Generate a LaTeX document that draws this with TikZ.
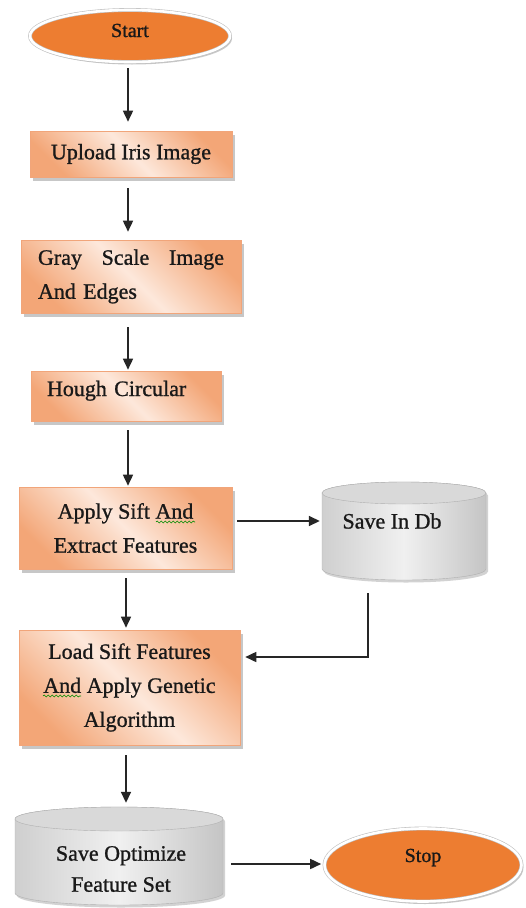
\documentclass[tikz,border=0pt]{standalone}
\usepackage{fontspec}
\setmainfont{Liberation Serif}[FakeBold=1.0]
\usetikzlibrary{arrows.meta,shapes.geometric,shadows,calc,decorations.pathmorphing}
\definecolor{ovalfill}{HTML}{ED7D31}
\definecolor{boxdark}{HTML}{F3A677}
\definecolor{boxlight}{HTML}{FDE8DB}
\definecolor{boxedge}{HTML}{F1A57A}
\definecolor{cylA}{HTML}{CFCFCF}
\definecolor{cylB}{HTML}{F0F0F0}
\definecolor{cylTop}{HTML}{D9D9D9}
\begin{document}
\begin{tikzpicture}[x=1pt,y=-1pt,
  txt/.style={font=\fontsize{22pt}{34pt}\selectfont, text=black!90, inner sep=0pt},
  procbox/.style={rectangle, draw=boxedge, line width=0.6pt, top color=boxdark, bottom color=boxdark, middle color=boxlight, shading angle=-45,
    drop shadow={shadow xshift=3pt,shadow yshift=-3.5pt,fill=black!40,opacity=0.55}, inner sep=0pt, txt},
  terminal/.style={ellipse, fill=ovalfill, draw=black!25, line width=0.6pt, double=white, double distance=2.6pt,
    inner sep=0pt, text=black!90, font=\fontsize{20pt}{24pt}\selectfont,
    drop shadow={shadow xshift=2pt,shadow yshift=-2.5pt,fill=black!35,opacity=0.6}},
  ghost/.style={rectangle, inner sep=0pt},
  cylbody/.style={left color=cylA, right color=cylA!95!black, middle color=cylB, draw=cylA!85!black, line width=0.4pt,
    drop shadow={shadow xshift=2pt,shadow yshift=-2.5pt,fill=black!35,opacity=0.5}},
  cyltop/.style={fill=cylTop, draw=cylA!85!black, line width=0.4pt},
  squig/.style={draw=green!55!black, line width=0.6pt, decorate, decoration={snake, amplitude=1pt, segment length=4pt}},
  arr/.style={draw=black!85, line width=1.6pt, -{Triangle[length=11pt,width=10pt]}}
]
\fill[white] (0,0) rectangle (525,908);
\useasboundingbox (0,0) rectangle (525,908);

% terminals and process boxes
\node[terminal, minimum width=200pt, minimum height=52pt, text height=14pt, text depth=12pt] (start) at (130,36) {Start};
\node[procbox, minimum width=202pt, minimum height=46pt] (upload) at (131,154) {Upload Iris Image};
\node[procbox, minimum width=220pt, minimum height=73pt, align=left, text width=186pt] (gray) at (131,276.5)
  {\hbox to 186pt{Gray\hfill Scale\hfill Image}\\And Edges};
\node[procbox, minimum width=190pt, minimum height=50pt, align=left, text width=158pt, text height=15pt, text depth=15pt] (hough) at (126,396) {Hough Circular};
\node[procbox, minimum width=213pt, minimum height=82pt, align=center] (apply) at (125.5,528) {Apply Sift And\\Extract Features};
\node[procbox, minimum width=221pt, minimum height=115pt, align=center] (load) at (129.5,687.5) {Load Sift Features\\And Apply Genetic\\Algorithm};

% spell-check underlines
\path[squig] (156,522) -- (195,522);
\path[squig] (43,696) -- (81,696);

% database cylinder
\path[cylbody] (322,493) -- (322,569) arc[start angle=180,end angle=360,x radius=82pt,y radius=11pt]
  -- (486,493) arc[start angle=0,end angle=180,x radius=82pt,y radius=11pt] -- cycle;
\path[cyltop] (404,493) ellipse[x radius=82pt,y radius=11pt];
\node[ghost, minimum width=164pt, minimum height=98pt] (db) at (404,531) {};
\node[txt] (dbtext) at (392,521) {Save In Db};

% optimized feature set cylinder
\path[cylbody] (15,819) -- (15,893) arc[start angle=180,end angle=360,x radius=104pt,y radius=12pt]
  -- (223,819) arc[start angle=0,end angle=180,x radius=104pt,y radius=12pt] -- cycle;
\path[cyltop] (119,819) ellipse[x radius=104pt,y radius=12pt];
\node[ghost, minimum width=208pt, minimum height=98pt] (opt) at (119,856) {};
\node[txt, align=center, font=\fontsize{22pt}{31pt}\selectfont] (opttext) at (121,869) {Save Optimize\\Feature Set};

\node[terminal, minimum width=197pt, minimum height=73pt, text height=14pt, text depth=20pt] (stop) at (423,865) {Stop};

% connectors
\coordinate (axA) at (128,0);
\coordinate (axB) at (126,0);
\coordinate (yA) at (0,521);
\coordinate (xD) at (368,0);
\coordinate (yD) at (0,657);
\coordinate (yS) at (0,864);
\draw[arr, shorten <=6pt, shorten >=9pt] (start.south -| axA) -- (upload.north -| axA);
\draw[arr, shorten <=11pt, shorten >=8pt] (upload.south -| axA) -- (gray.north -| axA);
\draw[arr, shorten <=14pt, shorten >=1pt] (gray.south -| axA) -- (hough.north -| axA);
\draw[arr, shorten <=9pt, shorten >=1pt] (hough.south -| axA) -- (apply.north -| axA);
\draw[arr, shorten <=9pt, shorten >=2pt] (apply.south -| axB) -- (load.north -| axB);
\draw[arr, shorten <=10pt, shorten >=4pt] (load.south -| axB) -- (opt.north -| axB);
\draw[arr, shorten <=5pt, shorten >=2pt] (apply.east |- yA) -- (db.west |- yA);
\draw[arr, shorten <=13pt, shorten >=5pt] (db.south -| xD) |- (load.east |- yD);
\draw[arr, shorten <=8pt, shorten >=3pt] (opt.east |- yS) -- (stop.west |- yS);
\end{tikzpicture}
\end{document}
